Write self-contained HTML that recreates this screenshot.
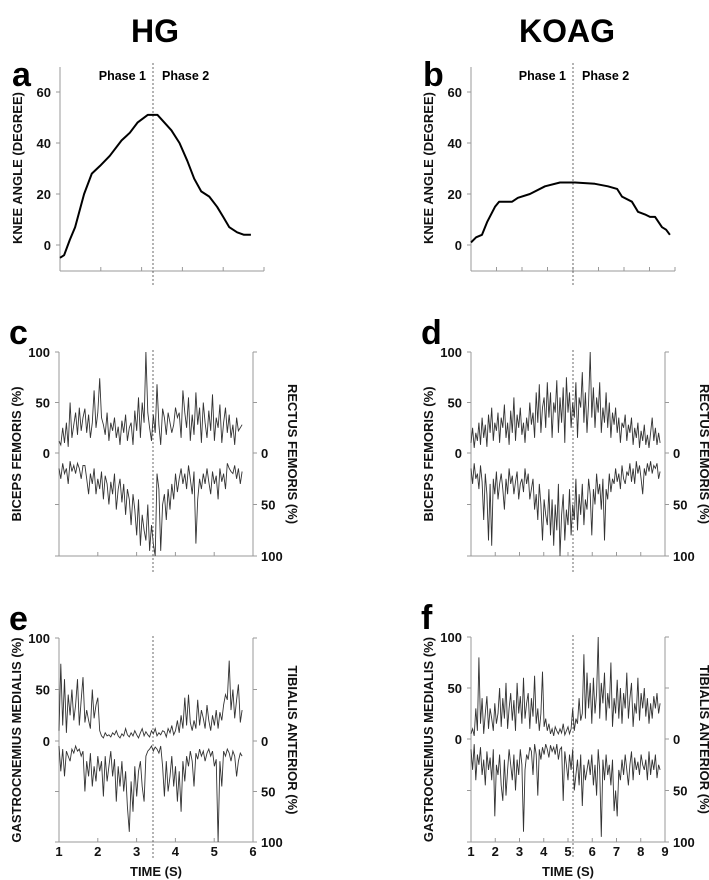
<!DOCTYPE html>
<html><head><meta charset="utf-8">
<style>
body{margin:0;background:#fff;}
svg{display:block;font-family:"Liberation Sans",Arial,sans-serif;}
.tk{font-size:13px;font-weight:bold;fill:#111;}
.ttl{font-size:13px;font-weight:bold;fill:#111;}
</style></head>
<body>
<svg id="fig" width="709" height="880" viewBox="0 0 709 880" xmlns="http://www.w3.org/2000/svg">
<text x="155" y="42" text-anchor="middle" font-size="32" font-weight="bold">HG</text>
<text x="567" y="42" text-anchor="middle" font-size="32" font-weight="bold">KOAG</text>
</svg>
<script>
// Knee angle data
const aTimes=[1,1.1,1.24,1.37,1.59,1.78,1.98,2.22,2.51,2.71,2.9,3.15,3.39,3.56,3.73,3.93,4.12,4.29,4.46,4.66,4.85,5,5.15,5.34,5.51,5.68];
const aAngles=[-5,-4,2,7,20,28,31,35,41,44,48,51,51,48,45,40,33,26,21,19,15,11,7,5,4,4];
const bTimes=[1,1.2,1.43,1.63,1.94,2.1,2.61,2.84,3.31,3.9,4.49,5.08,5.86,6.37,6.73,6.92,7.31,7.55,7.82,8.02,8.22,8.49,8.65,8.8];
const bAngles=[1,3,4,9,15,17,17,18.5,20,23,24.5,24.5,24,23,22,19,17,13,12,11,11,7,6,4];
const kneeTicks=[0,20,40,60];
// EMG data (% MVC)
const cBicepsFemoris=[12,8,25,10,30,6,50,15,28,40,18,45,22,35,44,20,38,15,30,62,25,40,74,35,28,18,40,12,30,22,35,15,26,8,32,20,38,12,25,30,8,42,22,55,15,50,30,100,40,25,12,38,20,68,28,8,44,35,18,40,30,20,28,45,35,40,15,62,40,25,55,12,38,18,60,28,45,10,50,30,15,42,22,58,12,35,25,48,10,30,45,20,38,15,28,8,35,22,25,28];
const cRectusFemoris=[15,25,10,20,15,30,8,18,12,20,10,15,25,12,12,25,40,20,30,15,40,25,35,18,45,22,30,50,28,40,20,55,35,25,48,30,60,35,45,70,40,55,80,45,90,60,75,85,50,95,70,88,100,20,35,95,50,40,65,35,55,30,45,20,38,25,15,30,20,35,12,25,40,18,88,45,25,35,20,30,15,28,40,18,30,22,45,15,28,20,35,10,15,18,20,12,25,15,30,18];
const eGastrocnemius=[10,75,15,60,8,45,25,50,20,35,60,15,40,62,18,30,20,12,50,22,35,42,10,5,3,8,5,6,4,8,6,10,5,3,7,5,12,6,4,8,5,10,6,3,8,12,5,9,6,4,10,7,12,5,8,6,10,9,4,12,8,15,6,10,20,8,25,12,42,15,45,18,10,20,12,40,15,30,22,12,35,20,10,25,15,30,12,28,20,35,45,40,78,30,50,22,40,55,18,30];
const eTibialis=[5,30,8,35,10,15,20,8,12,5,10,8,15,10,50,20,35,12,45,25,40,15,30,20,55,15,40,25,10,35,18,60,25,45,20,50,30,65,90,40,70,25,55,30,20,45,60,15,10,8,5,10,6,8,12,5,25,55,20,50,35,15,45,25,60,30,70,20,40,15,25,10,20,45,12,18,8,15,10,20,12,8,15,10,25,18,100,20,45,10,15,8,12,20,10,15,35,20,12,15];
const dBicepsFemoris=[10,25,5,20,12,30,8,35,15,28,6,38,20,45,12,30,22,40,10,35,25,48,15,30,8,42,20,55,12,38,25,45,18,30,10,35,22,50,28,40,15,60,30,68,20,45,55,25,70,35,60,15,50,40,72,20,55,30,65,10,75,40,60,25,50,35,70,15,55,45,80,30,60,20,50,100,35,65,25,55,40,70,20,45,30,60,25,50,15,40,28,45,20,35,10,30,25,38,12,28,20,35,8,25,15,30,5,22,12,28,8,18,5,20,35,12,25,8,20,10];
const dRectusFemoris=[15,30,10,25,20,35,12,28,65,20,40,85,30,90,25,40,18,45,30,20,35,55,25,40,15,30,22,40,28,18,45,30,25,38,15,30,20,45,35,25,55,40,65,30,50,85,45,60,70,35,80,45,90,50,75,30,100,60,40,85,55,70,35,80,50,65,25,75,40,60,30,70,45,55,25,40,80,35,50,20,40,30,55,25,85,35,45,20,38,25,30,15,28,20,35,12,25,30,18,22,10,28,15,30,8,20,12,25,40,15,22,10,18,8,20,12,15,10,25,18];
const fGastrocnemius=[5,10,3,30,8,80,15,40,5,25,42,10,30,20,8,35,15,25,50,12,40,20,55,10,30,45,18,38,8,55,25,42,15,60,20,35,45,10,40,22,62,15,30,8,25,66,12,20,8,15,5,10,3,12,8,5,10,6,15,4,8,12,5,10,30,8,20,15,40,18,25,83,20,65,30,55,15,60,25,45,100,20,55,35,65,18,45,30,75,12,40,25,58,20,50,15,45,30,65,20,40,55,12,35,25,60,18,45,30,50,22,40,15,35,20,42,30,45,25,35];
const fTibialis=[10,30,5,40,15,25,8,35,20,45,12,30,18,40,10,75,25,35,15,45,60,20,55,30,10,25,40,15,50,20,35,10,25,90,30,15,20,8,12,35,5,15,55,10,20,8,15,5,10,18,6,12,8,15,5,20,10,8,60,12,25,40,15,30,10,50,35,20,45,15,65,25,40,30,20,35,15,45,25,55,10,30,95,20,40,15,35,25,45,20,70,50,75,30,40,20,35,15,30,45,25,12,40,18,30,22,35,15,25,30,20,40,12,35,20,30,15,38,25,30];
const hgTimeTicks=[1,2,3,4,5,6];
const koagTimeTicks=[1,2,3,4,5,6,7,8,9];
const emgTicks=[0,50,100];

const NS="http://www.w3.org/2000/svg";
const svg=document.getElementById('fig');
function mk(tag,attrs,parent){const e=document.createElementNS(NS,tag);for(const k in attrs)e.setAttribute(k,attrs[k]);(parent||svg).appendChild(e);return e;}
function lin(d0,d1,r0,r1){return v=>r0+(v-d0)*(r1-r0)/(d1-d0);}

function letter(g,x,y,t){const e=mk('text',{x:x,y:y,'font-size':34,'font-weight':'bold'},g);e.textContent=t;

}
function vtitle(g,x,y,t,rot,name){const e=mk('text',{x:x,y:y,class:'ttl','text-anchor':'middle',transform:`rotate(${rot} ${x} ${y})`},g);e.textContent=t;

}

function kneePanel(id,x0,x1,tmax,times,ang,dashX,lt){
  const g=mk('g',{});
  
  
  const X=lin(1,tmax,x0,x1), Y=lin(0,60,245,92);
  letter(g,x0-48,86,id);
  mk('line',{x1:x0,y1:67,x2:x0,y2:271,stroke:'#999','stroke-width':1},g);
  mk('line',{x1:x0,y1:271,x2:x1,y2:271,stroke:'#999','stroke-width':1},g);
  for(let t=1;t<=tmax;t++){mk('line',{x1:X(t),y1:267,x2:X(t),y2:271,stroke:'#999'},g);}
  kneeTicks.forEach(v=>{mk('line',{x1:x0-4,y1:Y(v),x2:x0,y2:Y(v),stroke:'#999'},g);
    const e=mk('text',{x:x0-9,y:Y(v)+5,class:'tk','text-anchor':'end'},g);e.textContent=v;
    
    });
  vtitle(g,x0-38,168,'KNEE ANGLE (DEGREE)',-90,'y-axis-title');
  mk('line',{x1:dashX,y1:63,x2:dashX,y2:286,stroke:'#444','stroke-width':0.8,'stroke-dasharray':'2,2'},g);
  const p1=mk('text',{x:dashX-7,y:80,'font-size':12.5,'font-weight':'bold','text-anchor':'end'},g);p1.textContent='Phase 1';
  
  
  const p2=mk('text',{x:dashX+9,y:80,'font-size':12.5,'font-weight':'bold'},g);p2.textContent='Phase 2';
  
  
  const d=times.map((t,i)=>(i?'L':'M')+X(t).toFixed(1)+','+Y(ang[i]).toFixed(1)).join(' ');
  const pl=mk('path',{d:d,fill:'none',stroke:'#000','stroke-width':2,'stroke-linejoin':'round'},g);
  
  
}

function emgPanel(id,x0,x1,tmax,tEnd,top,bot,yTop,yZero,yBot,dashX,ltitle,rtitle,rX,ticks,showTime){
  const g=mk('g',{});
  
  
  const X=lin(1,tmax,x0,x1), YT=lin(0,100,yZero,yTop), YB=lin(0,100,yZero,yBot);
  letter(g,x0-50,yTop-8,id);
  mk('line',{x1:x0,y1:yTop,x2:x0,y2:yBot,stroke:'#999'},g);
  mk('line',{x1:x1,y1:yTop,x2:x1,y2:yBot,stroke:'#999'},g);
  mk('line',{x1:x0,y1:yBot,x2:x1,y2:yBot,stroke:'#999'},g);
  ticks.forEach(t=>{mk('line',{x1:X(t),y1:yBot-4,x2:X(t),y2:yBot,stroke:'#999'},g);
    if(showTime){const e=mk('text',{x:X(t),y:yBot+14,class:'tk','text-anchor':'middle'},g);e.textContent=t;
      
      }});
  [0,50,100].forEach(v=>{mk('line',{x1:x0-4,y1:YT(v),x2:x0,y2:YT(v),stroke:'#999'},g);
    mk('line',{x1:x0-4,y1:YB(v),x2:x0,y2:YB(v),stroke:'#999'},g);
    mk('line',{x1:x1,y1:YT(v),x2:x1+4,y2:YT(v),stroke:'#999'},g);
    mk('line',{x1:x1,y1:YB(v),x2:x1+4,y2:YB(v),stroke:'#999'},g);});
  emgTicks.forEach(v=>{const e=mk('text',{x:x0-9,y:YT(v)+5,class:'tk','text-anchor':'end'},g);e.textContent=v;
    
    
    const r=mk('text',{x:x1+8,y:YB(v)+5,class:'tk'},g);r.textContent=v;
    
    });
  vtitle(g,x0-38,(yTop+yBot)/2,ltitle,-90,'left-axis-title');
  vtitle(g,rX,(yTop+yBot)/2,rtitle,90,'right-axis-title');
  mk('line',{x1:dashX,y1:yTop-2,x2:dashX,y2:yBot+16,stroke:'#444','stroke-width':0.8,'stroke-dasharray':'2,2'},g);
  const dt=(tEnd-1)/(top.length-1), db=(tEnd-1)/(bot.length-1);
  const dT=top.map((v,i)=>(i?'L':'M')+X(1+i*dt).toFixed(1)+','+YT(v).toFixed(1)).join(' ');
  const dB=bot.map((v,i)=>(i?'L':'M')+X(1+i*db).toFixed(1)+','+YB(v).toFixed(1)).join(' ');
  const a=mk('path',{d:dT,fill:'none',stroke:'#333','stroke-width':0.9},g);
  
  
  const b=mk('path',{d:dB,fill:'none',stroke:'#333','stroke-width':0.9},g);
  
  
  if(showTime){const e=mk('text',{x:(x0+x1)/2,y:yBot+34,class:'ttl','text-anchor':'middle','font-size':14},g);e.textContent='TIME (S)';
    
    }
}

kneePanel('a',60,264,6,aTimes,aAngles,153);
kneePanel('b',471,675,9,bTimes,bAngles,573);
emgPanel('c',59,253,6,5.72,cBicepsFemoris,cRectusFemoris,352,453,556,153,'BICEPS FEMORIS (%)','RECTUS FEMORIS (%)',288,hgTimeTicks,false);
emgPanel('d',471,665,9,8.8,dBicepsFemoris,dRectusFemoris,352,453,556,573,'BICEPS FEMORIS (%)','RECTUS FEMORIS (%)',700,koagTimeTicks,false);
emgPanel('e',59,253,6,5.72,eGastrocnemius,eTibialis,638,741,842,153,'GASTROCNEMIUS MEDIALIS (%)','TIBIALIS ANTERIOR (%)',288,hgTimeTicks,true);
emgPanel('f',471,665,9,8.8,fGastrocnemius,fTibialis,637,739,842,573,'GASTROCNEMIUS MEDIALIS (%)','TIBIALIS ANTERIOR (%)',700,koagTimeTicks,true);
</script>
</body></html>
